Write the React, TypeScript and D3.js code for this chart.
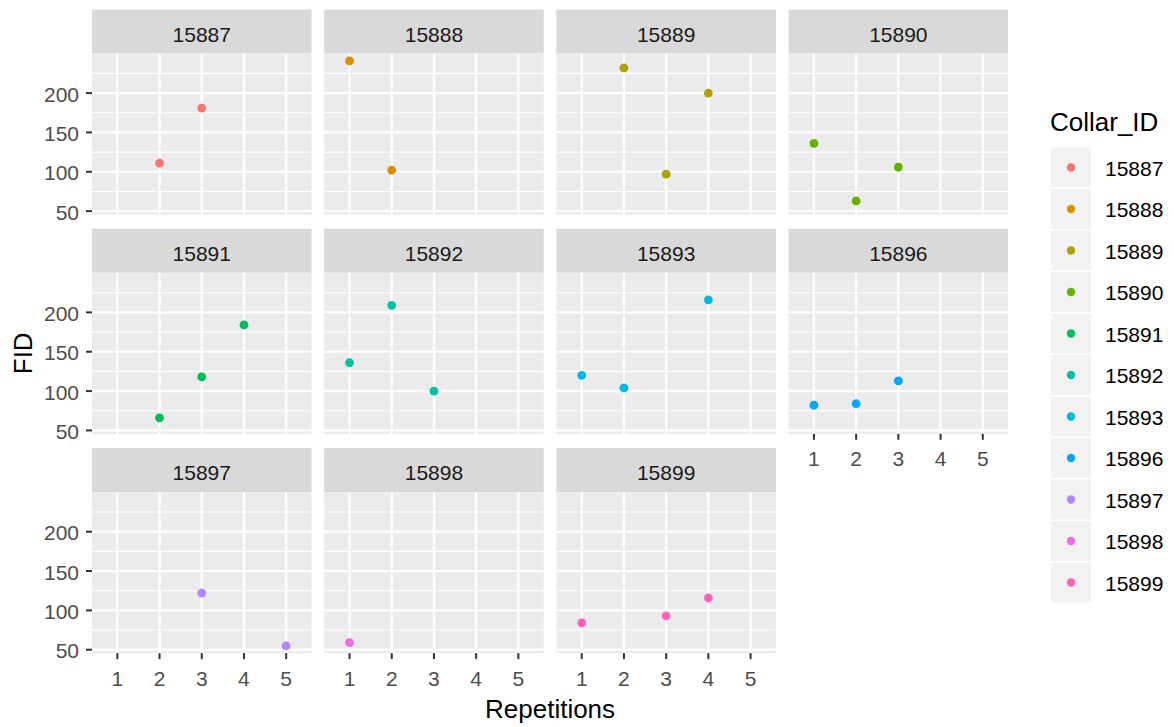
import React from 'react';
import * as d3 from 'd3';

// one facet per collar
const collarIds = ['15887', '15888', '15889', '15890', '15891', '15892', '15893', '15896', '15897', '15898', '15899'];
const repetitions = [[2, 3], [1, 2], [2, 3, 4], [1, 2, 3], [2, 3, 4], [1, 2, 3], [1, 2, 4], [1, 2, 3], [3, 5], [1], [1, 3, 4]];
const fidValues = [[111, 181], [241, 102], [232, 97, 200], [136, 63, 106], [66, 118, 184], [136, 209, 100], [120, 104, 216], [82, 84, 113], [122, 55], [59], [84, 93, 116]];
const xTicks = [1, 2, 3, 4, 5];
const yTicks = [50, 100, 150, 200];
const hueColors = ['#F8766D', '#DB8E00', '#AEA200', '#64B200', '#00BD5C', '#00C1A7', '#00BADE', '#00A6FF', '#B385FF', '#EF67EB', '#FF63B6'];

const W = 1174, H = 727;
const nCol = 4;
const font = '"Liberation Sans", Arial, sans-serif';

export default function App() {
  // layout of the facet grid
  const colLeft = 92, colPitch = 232.2, panelW = 219.5;
  const rowTop = 9.5, rowPitch = 219.3, stripH = 44, panelH = 161;

  const allFid = fidValues.flat();
  const [lo, hi] = d3.extent(allFid) as [number, number];
  const pad = (hi - lo) * 0.05;

  const color = d3.scaleOrdinal<string, string>().domain(collarIds).range(hueColors);

  const nRows = Math.ceil(collarIds.length / nCol);

  const panels = collarIds.map((id, i) => {
    const r = Math.floor(i / nCol), c = i % nCol;
    const x0 = colLeft + c * colPitch;
    const sTop = rowTop + r * rowPitch;
    const pTop = sTop + stripH;
    const x = d3.scaleLinear().domain([0.4, 5.6]).range([x0, x0 + panelW]);
    const y = d3.scaleLinear().domain([lo - pad, hi + pad]).range([pTop + panelH, pTop]);
    // x axis drawn when no panel below
    const below = i + nCol;
    const showX = below >= collarIds.length;
    const showY = c === 0;
    const minor = d3.range(yTicks[0] - 25, yTicks[yTicks.length - 1] + 50, 50).filter(v => v > y.domain()[0] && v < y.domain()[1]);
    const pts = repetitions[i].map((rep, k) => ({ rep, fid: fidValues[i][k] }));
    return (
      <g key={id}>
        <rect x={x0} y={sTop} width={panelW} height={stripH} fill="#D9D9D9" />
        <text x={x0 + panelW / 2} y={sTop + 32} textAnchor="middle" fontSize={21} fill="#1A1A1A">{id}</text>
        <rect x={x0} y={pTop} width={panelW} height={panelH} fill="#EBEBEB" />
        {minor.map(v => (
          <line key={'m' + v} x1={x0} x2={x0 + panelW} y1={y(v)} y2={y(v)} stroke="#fff" strokeWidth={1.1} />
        ))}
        {yTicks.map(v => (
          <line key={'y' + v} x1={x0} x2={x0 + panelW} y1={y(v)} y2={y(v)} stroke="#fff" strokeWidth={2.2} />
        ))}
        {xTicks.map(v => (
          <line key={'x' + v} x1={x(v)} x2={x(v)} y1={pTop} y2={pTop + panelH} stroke="#fff" strokeWidth={2.2} />
        ))}
        {pts.map((p, k) => (
          <circle key={k} cx={x(p.rep)} cy={y(p.fid)} r={4.4} fill={color(id)} />
        ))}
        {showY && yTicks.map(v => (
          <g key={'ly' + v}>
            <line x1={x0 - 6} x2={x0} y1={y(v)} y2={y(v)} stroke="#333333" strokeWidth={2} />
            <text x={x0 - 13} y={y(v) + 8.5} textAnchor="end" fontSize={21} fill="#4D4D4D">{v}</text>
          </g>
        ))}
        {showX && xTicks.map(v => (
          <g key={'lx' + v}>
            <line x1={x(v)} x2={x(v)} y1={pTop + panelH} y2={pTop + panelH + 6} stroke="#333333" strokeWidth={2} />
            <text x={x(v)} y={pTop + panelH + 32.5} textAnchor="middle" fontSize={21} fill="#4D4D4D">{v}</text>
          </g>
        ))}
      </g>
    );
  });

  const panelsTop = rowTop + stripH;
  const panelsBottom = rowTop + (nRows - 1) * rowPitch + stripH + panelH;
  const panelsRight = colLeft + (nCol - 1) * colPitch + panelW;

  // legend
  const legX = 1051, legTop = 147.5, keyPitch = 41.5, keySize = 40;

  return (
    <svg width={W} height={H} style={{ position: 'absolute', left: 0, top: 0, background: '#fff' }} fontFamily={font}>
      {panels}
      <text x={(colLeft + panelsRight) / 2} y={718} textAnchor="middle" fontSize={26} fill="#000">Repetitions</text>
      <text transform={`translate(32,${(panelsTop + panelsBottom) / 2}) rotate(-90)`} textAnchor="middle" fontSize={26} fill="#000">FID</text>
      <text x={legX - 1} y={131} fontSize={26} fill="#000">Collar_ID</text>
      {collarIds.map((id, i) => (
        <g key={'leg' + id}>
          <rect x={legX} y={legTop + i * keyPitch} width={keySize} height={keySize} fill="#F2F2F2" />
          <circle cx={legX + keySize / 2} cy={legTop + i * keyPitch + keySize / 2} r={4.2} fill={color(id)} />
          <text x={1105} y={legTop + i * keyPitch + keySize / 2 + 8} fontSize={21} fill="#000">{id}</text>
        </g>
      ))}
    </svg>
  );
}
